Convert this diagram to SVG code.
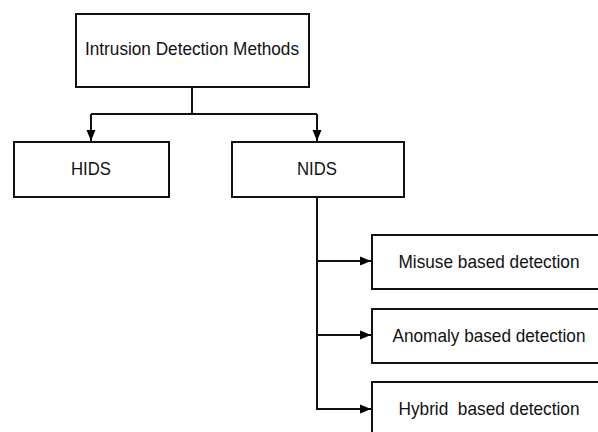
<svg xmlns="http://www.w3.org/2000/svg" width="598" height="432" viewBox="0 0 598 432">
<defs>
<marker id="arr" markerWidth="12" markerHeight="10" refX="11" refY="5" orient="auto" markerUnits="userSpaceOnUse">
<path d="M0,0.5 L11,5 L0,9.5 z" fill="#000"/>
</marker>
<style>
.box{fill:#fff;stroke:#111;stroke-width:2}
.lbl{font-family:"Liberation Sans",Arial,sans-serif;font-size:19px;fill:#111;text-anchor:middle}
.con{fill:none;stroke:#111;stroke-width:2}
</style>
</defs>
<rect width="598" height="432" fill="#fff"/>
<g id="root"><rect class="box" x="76" y="14" width="233" height="73"/><text class="lbl" x="192" y="55" textLength="214" lengthAdjust="spacingAndGlyphs">Intrusion Detection Methods</text></g>
<g id="hids"><rect class="box" x="14" y="142" width="155" height="55"/><text class="lbl" x="91" y="175" textLength="40" lengthAdjust="spacingAndGlyphs">HIDS</text></g>
<g id="nids"><rect class="box" x="232" y="142" width="172" height="55"/><text class="lbl" x="317" y="175" textLength="40" lengthAdjust="spacingAndGlyphs">NIDS</text></g>
<g id="misuse"><rect class="box" x="372" y="235" width="240" height="54"/><text class="lbl" x="489" y="268" textLength="181" lengthAdjust="spacingAndGlyphs">Misuse based detection</text></g>
<g id="anomaly"><rect class="box" x="372" y="309" width="240" height="54"/><text class="lbl" x="489" y="342" textLength="193" lengthAdjust="spacingAndGlyphs">Anomaly based detection</text></g>
<g id="hybrid"><rect class="box" x="372" y="382" width="240" height="60"/><text class="lbl" x="489" y="415" textLength="181" lengthAdjust="spacingAndGlyphs" xml:space="preserve">Hybrid  based detection</text></g>
<g id="connectors">
<path class="con" d="M192,87 V114 M91,114 H317"/>
<path class="con" d="M91,114 V141" marker-end="url(#arr)"/>
<path class="con" d="M317,114 V141" marker-end="url(#arr)"/>
<path class="con" d="M317,197 V409"/>
<path class="con" d="M317,261 H371" marker-end="url(#arr)"/>
<path class="con" d="M317,335 H371" marker-end="url(#arr)"/>
<path class="con" d="M316,409 H371" marker-end="url(#arr)"/>
</g>
</svg>
